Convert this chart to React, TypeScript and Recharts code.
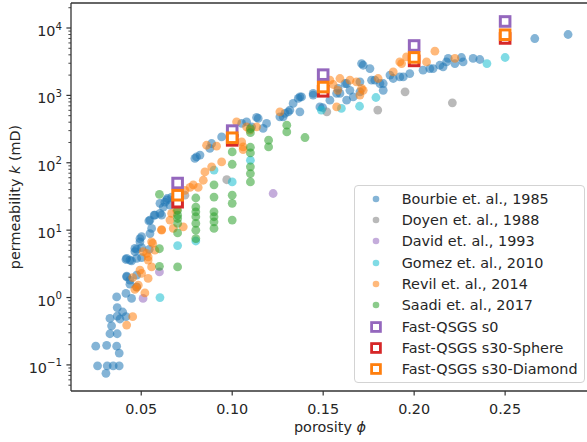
import React from 'react';
import { ScatterChart, Scatter, XAxis, YAxis, ReferenceLine, Legend } from 'recharts';

const FONT = '"DejaVu Sans", sans-serif';
const TEXT = '#262626';
const AXIS = '#333333';

// [porosity, permeability (mD)]
const bourbie: [number, number][] = [
  [0.025, 0.19], [0.031, 0.195], [0.0365, 0.19], [0.0379, 0.15],
  [0.026, 0.097], [0.0313, 0.097], [0.0346, 0.097], [0.0379, 0.097], [0.0306, 0.075],
  [0.0328, 0.29], [0.0368, 0.29], [0.0337, 0.38], [0.0328, 0.49], [0.0368, 0.53], [0.0383, 0.48],
  [0.0398, 0.61], [0.0368, 0.71], [0.0416, 0.52],
  [0.0365, 1.02], [0.0416, 1.15], [0.0447, 0.97], [0.042, 2.03], [0.0438, 1.58], [0.0475, 1.44],
  [0.0416, 3.67], [0.0447, 3.5], [0.0465, 4.8], [0.0475, 2.15], [0.0493, 7.5], [0.0475, 5.2], [0.0502, 5.5],
  [0.0542, 13.7], [0.0557, 10.6], [0.0544, 5.2], [0.0571, 16.7], [0.0548, 14.1], [0.0575, 16.7],
  [0.0603, 17.7], [0.0548, 8.9], [0.0502, 8.0], [0.0493, 6.7], [0.0465, 5.35], [0.042, 3.8],
  [0.0438, 3.6], [0.0475, 3.8], [0.0502, 3.9], [0.042, 2.08], [0.0438, 1.81],
  [0.0603, 25], [0.063, 26], [0.0643, 29.5], [0.0658, 23.5], [0.0612, 16.7], [0.0621, 22], [0.0667, 31], [0.064, 28],
  [0.0795, 116], [0.0823, 130], [0.0887, 193], [0.0942, 242], [0.0877, 163], [0.0804, 122],
  [0.1, 280], [0.1052, 383], [0.1134, 470], [0.1107, 341], [0.1079, 405], [0.1189, 383], [0.117, 323],
  [0.128, 480], [0.1317, 605], [0.1335, 760], [0.1363, 900], [0.1372, 950], [0.1308, 570],
  [0.1372, 570], [0.1143, 455], [0.1445, 1070], [0.1574, 1070], [0.129, 540], [0.1262, 480],
  [0.1711, 2970], [0.1757, 2500], [0.1445, 1010], [0.1381, 950], [0.1482, 675], [0.1592, 1070],
  [0.1647, 1190], [0.1702, 1590], [0.1766, 1680], [0.1812, 1500], [0.1867, 2000], [0.1921, 1880],
  [0.1976, 2110], [0.2049, 2370], [0.2104, 2500], [0.2159, 2650], [0.2187, 3530], [0.2224, 2970],
  [0.226, 3650], [0.2269, 3140], [0.2324, 3530], [0.2361, 3410], [0.2663, 6980], [0.2846, 8010],
  [0.172, 2800], [0.1784, 1680], [0.183, 1500], [0.1885, 1780], [0.194, 1880], [0.1629, 1500],
  [0.1665, 950], [0.1702, 1130], [0.183, 1190], [0.2086, 2500], [0.2141, 2800], [0.2178, 3140],
  [0.1497, 660], [0.1537, 850], [0.1629, 850], [0.1582, 1270], [0.162, 1500],
];

const doyen: [number, number][] = [
  [0.074, 33], [0.097, 56], [0.152, 570], [0.18, 605], [0.195, 1130], [0.221, 775],
];

const david: [number, number][] = [
  [0.051, 0.97], [0.06, 2.4], [0.1225, 35],
];

const gomez: [number, number][] = [
  [0.0603, 1.0], [0.07, 5.9], [0.08, 6.9], [0.09, 78], [0.1, 52], [0.11, 109],
  [0.149, 605], [0.16, 640], [0.17, 690], [0.179, 930], [0.24, 2970], [0.25, 3650],
];

const revil: [number, number][] = [
  [0.0453, 1.98], [0.0465, 1.32], [0.0453, 0.52], [0.042, 0.39],
  [0.0667, 17.7], [0.0695, 19.8], [0.0612, 10.2], [0.0676, 10.6], [0.0731, 11.2], [0.0557, 6.7],
  [0.0575, 5.05], [0.053, 4.5], [0.0538, 3.6], [0.0557, 2.85], [0.0493, 2.55], [0.0502, 2.28],
  [0.0538, 1.92], [0.0484, 1.53], [0.0563, 6.35], [0.0511, 4.8], [0.0538, 4.0], [0.052, 1.17],
  [0.0475, 1.41], [0.0658, 14.1], [0.0612, 10],
  [0.0841, 55], [0.0786, 47], [0.0813, 43], [0.0768, 43], [0.074, 39], [0.0942, 103], [0.0887, 87],
  [0.085, 73], [0.0859, 182], [0.0914, 176], [0.1024, 405], [0.1052, 204], [0.1097, 305],
  [0.1134, 341], [0.106, 172], [0.1079, 341], [0.1262, 570], [0.106, 157],
  [0.1592, 1780], [0.2114, 4530], [0.2068, 3140], [0.1921, 3140], [0.1885, 2230], [0.1802, 1780],
  [0.1537, 1680], [0.1647, 1680], [0.1683, 1590], [0.1711, 1270], [0.1702, 1010], [0.1574, 675],
  [0.2224, 3530], [0.158, 1190], [0.1931, 2970], [0.1958, 3720], [0.172, 1190], [0.1555, 1450],
];

const saadi: [number, number][] = [
  [0.06, 34], [0.06, 5.3], [0.06, 2.9],
  [0.07, 28], [0.07, 19.8], [0.07, 16.7], [0.07, 14.9], [0.07, 12.6], [0.07, 9.1], [0.07, 2.85],
  [0.08, 30], [0.08, 22], [0.08, 18.7], [0.08, 15.8], [0.08, 12.6], [0.08, 10], [0.08, 7.5],
  [0.09, 47], [0.09, 31], [0.09, 18.7], [0.09, 15.8], [0.09, 13.3], [0.09, 10.6],
  [0.1, 145], [0.1, 95], [0.1, 33], [0.1, 25], [0.1, 14.1],
  [0.11, 320], [0.11, 280], [0.11, 170], [0.11, 140], [0.11, 87], [0.11, 69], [0.11, 52],
  [0.12, 216], [0.12, 172], [0.13, 361], [0.13, 287], [0.14, 237],
];

const qsgsS0: [number, number][] = [
  [0.07, 50], [0.1, 300], [0.15, 2030], [0.2, 5500], [0.25, 12500],
];
const qsgsSphere: [number, number][] = [
  [0.07, 26], [0.1, 215], [0.15, 1150], [0.2, 3250], [0.25, 7000],
];
const qsgsDiamond: [number, number][] = [
  [0.07, 33], [0.1, 235], [0.15, 1330], [0.2, 3660], [0.25, 7950],
];

const xTicks = [0.05, 0.1, 0.15, 0.2, 0.25];
const yMajor = [0.1, 1, 10, 100, 1000, 10000];
const yTicks: number[] = [
  0.05, 0.06, 0.07, 0.08, 0.09, 0.1, 0.2, 0.3, 0.4, 0.5, 0.6, 0.7, 0.8, 0.9,
  1, 2, 3, 4, 5, 6, 7, 8, 9, 10, 20, 30, 40, 50, 60, 70, 80, 90,
  100, 200, 300, 400, 500, 600, 700, 800, 900, 1000, 2000, 3000, 4000, 5000, 6000, 7000, 8000, 9000,
  10000, 20000,
];

const toPts = (arr: [number, number][]) => arr.map(([phi, k]) => ({ phi, k }));

const circleShape = (color: string) => (p: any) => (
  <circle cx={p.cx} cy={p.cy} r={4.4} fill={color} fillOpacity={0.55} />
);
const squareShape = (color: string) => (p: any) => (
  <rect x={p.cx - 4.8} y={p.cy - 4.8} width={9.6} height={9.6} fill="#ffffff" stroke={color} strokeWidth={3} />
);

const circleSeries = [
  { name: 'Bourbie et. al., 1985', data: bourbie, color: '#1f77b4' },
  { name: 'Doyen et. al., 1988', data: doyen, color: '#7f7f7f' },
  { name: 'David et. al., 1993', data: david, color: '#9467bd' },
  { name: 'Gomez et. al., 2010', data: gomez, color: '#17becf' },
  { name: 'Revil et. al., 2014', data: revil, color: '#ff7f0e' },
  { name: 'Saadi et. al., 2017', data: saadi, color: '#2ca02c' },
];
const squareSeries = [
  { name: 'Fast-QSGS s0', data: qsgsS0, color: '#9467bd' },
  { name: 'Fast-QSGS s30-Sphere', data: qsgsSphere, color: '#d62728' },
  { name: 'Fast-QSGS s30-Diamond', data: qsgsDiamond, color: '#ff7f0e' },
];

const YTick = (props: any) => {
  const { x, y, payload } = props;
  const v = payload.value as number;
  const e = Math.round(Math.log10(v));
  const major = yMajor.some((m) => Math.abs(m - v) / m < 1e-6);
  if (!major) {
    return <line x1={x} x2={x - 2.6} y1={y} y2={y} stroke={AXIS} strokeWidth={0.9} />;
  }
  return (
    <g>
      <line x1={x} x2={x - 4.6} y1={y} y2={y} stroke={AXIS} strokeWidth={1.2} />
      <text x={x - 9} y={y + 8} textAnchor="end" fontFamily={FONT} fontSize={14.4} fill={TEXT}>
        10
        <tspan dy={-6.5} fontSize={10.2}>{e < 0 ? '\u2212' + -e : String(e)}</tspan>
      </text>
    </g>
  );
};

const XTick = (props: any) => {
  const { x, y, payload } = props;
  return (
    <g>
      <line x1={x} x2={x} y1={y} y2={y + 4.6} stroke={AXIS} strokeWidth={1.2} />
      <text x={x} y={y + 22.5} textAnchor="middle" fontFamily={FONT} fontSize={14.4} fill={TEXT}>
        {(payload.value as number).toFixed(2)}
      </text>
    </g>
  );
};

const LegendBox = () => {
  const items = [
    ...circleSeries.map((s) => ({ name: s.name, color: s.color, square: false })),
    ...squareSeries.map((s) => ({ name: s.name, color: s.color, square: true })),
  ];
  return (
    <div
      style={{
        boxSizing: 'border-box',
        width: 231,
        height: 198,
        border: '1px solid #d3d3d3',
        borderRadius: 4,
        background: 'rgba(255,255,255,0.85)',
        paddingTop: 2,
        fontFamily: FONT,
        fontSize: 14.4,
        color: TEXT,
      }}
    >
      {items.map((it) => (
        <div key={it.name} style={{ display: 'flex', alignItems: 'center', height: 21.33 }}>
          <svg width={16} height={16} style={{ marginLeft: 12.7, flex: 'none' }}>
            {it.square ? (
              <rect x={3.6} y={3.6} width={8.8} height={8.8} fill="#fff" stroke={it.color} strokeWidth={2.8} />
            ) : (
              <circle cx={8} cy={8} r={3.3} fill={it.color} fillOpacity={0.55} />
            )}
          </svg>
          <span style={{ marginLeft: 18, whiteSpace: 'nowrap', lineHeight: '16px' }}>{it.name}</span>
        </div>
      ))}
    </div>
  );
};

export default function App() {
  return (
    <div style={{ position: 'absolute', left: 0, top: 0, width: 587, height: 442, background: '#fff' }}>
      <ScatterChart width={587} height={442} margin={{ top: 3, right: 0, bottom: 0, left: 0 }}>
        <XAxis
          type="number"
          dataKey="phi"
          domain={[0.0114, 0.295]}
          allowDataOverflow
          ticks={xTicks}
          interval={0}
          height={51}
          tickSize={0}
          tickMargin={0}
          tickLine={false}
          tick={<XTick />}
          axisLine={{ stroke: AXIS, strokeWidth: 1.3 }}
          label={{
            content: () => (
              <text x={330} y={432} textAnchor="middle" fontFamily={FONT} fontSize={14.4} fill={TEXT}>
                porosity <tspan fontStyle="italic">ϕ</tspan>
              </text>
            ),
          }}
        />
        <YAxis
          type="number"
          dataKey="k"
          scale="log"
          domain={[0.041, 23500]}
          allowDataOverflow
          ticks={yTicks}
          interval={0}
          width={71}
          tickSize={0}
          tickMargin={0}
          tickLine={false}
          tick={<YTick />}
          axisLine={{ stroke: AXIS, strokeWidth: 1.3 }}
          label={{
            content: () => (
              <text
                x={19.5}
                y={197}
                transform="rotate(-90, 19.5, 197)"
                textAnchor="middle"
                fontFamily={FONT}
                fontSize={14.4}
                fill={TEXT}
              >
                permeability <tspan fontStyle="italic">k</tspan> (mD)
              </text>
            ),
          }}
        />
        <ReferenceLine y={23500} stroke={AXIS} strokeWidth={1.3} ifOverflow="visible" />
        {circleSeries.map((s) => (
          <Scatter
            key={s.name}
            name={s.name}
            data={toPts(s.data)}
            fill={s.color}
            shape={circleShape(s.color)}
            isAnimationActive={false}
          />
        ))}
        {squareSeries.map((s) => (
          <Scatter
            key={s.name}
            name={s.name}
            data={toPts(s.data)}
            fill={s.color}
            shape={squareShape(s.color)}
            isAnimationActive={false}
          />
        ))}
        <Legend
          layout="vertical"
          align="center"
          verticalAlign="middle"
          wrapperStyle={{ position: 'absolute', left: 354, top: 185, width: 231, height: 198 }}
          content={() => <LegendBox />}
        />
      </ScatterChart>
    </div>
  );
}
